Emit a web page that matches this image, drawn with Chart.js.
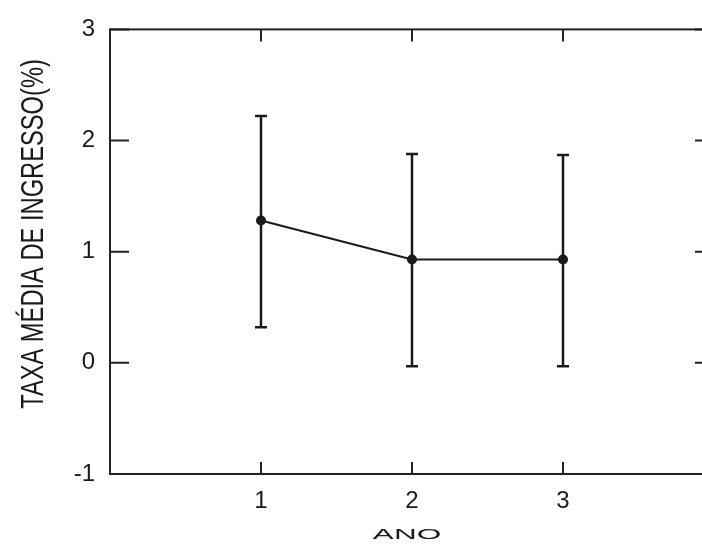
<!DOCTYPE html>
<html>
<head>
<meta charset="utf-8">
<script src="https://cdn.jsdelivr.net/npm/chart.js@4/dist/chart.umd.min.js"></script>
<style>
  html, body { margin: 0; padding: 0; background: #fff; overflow: hidden; }
  canvas { display: block; }
</style>
</head>
<body>
<canvas id="myChart" width="730" height="544"></canvas>
<script>
var years = [1, 2, 3];
var means = [1.28, 0.93, 0.93];
var upper = [2.22, 1.88, 1.87];
var lower = [0.32, -0.03, -0.03];
var yTicks = [-1, 0, 1, 2, 3];
var xTickLabels = ['1', '2', '3'];
var xTitle = 'ANO';
var yTitle = 'TAXA MÉDIA DE INGRESSO(%)';

var ink = '#1a1a1a';

var boxPlugin = {
    id: 'matlabBox',
    beforeDatasetsDraw: function (chart) {
        var ctx = chart.ctx;
        var xs = chart.scales.x, ys = chart.scales.y;
        ctx.save();
        ctx.strokeStyle = ink;
        ctx.lineWidth = 2.5;
        for (var i = 0; i < years.length; i++) {
            var px = xs.getPixelForValue(years[i]);
            var top = ys.getPixelForValue(upper[i]);
            var bot = ys.getPixelForValue(lower[i]);
            ctx.beginPath();
            ctx.moveTo(px, top); ctx.lineTo(px, bot);
            ctx.moveTo(px - 6, top); ctx.lineTo(px + 6, top);
            ctx.moveTo(px - 6, bot); ctx.lineTo(px + 6, bot);
            ctx.stroke();
        }
        ctx.restore();
    },
    afterDraw: function (chart) {
        var ctx = chart.ctx;
        var a = chart.chartArea;
        var xs = chart.scales.x, ys = chart.scales.y;
        ctx.save();
        ctx.strokeStyle = '#222';
        ctx.lineWidth = 2;
        ctx.strokeRect(a.left, a.top, a.right - a.left, a.bottom - a.top);
        ctx.beginPath();
        // inward ticks
        years.forEach(function (v) {
            var px = xs.getPixelForValue(v);
            ctx.moveTo(px, a.bottom); ctx.lineTo(px, a.bottom - 12);
            ctx.moveTo(px, a.top); ctx.lineTo(px, a.top + 12);
        });
        yTicks.forEach(function (v) {
            var py = ys.getPixelForValue(v);
            ctx.moveTo(a.left, py); ctx.lineTo(a.left + 19, py);
            ctx.moveTo(a.right, py); ctx.lineTo(a.right - 19, py);
        });
        ctx.stroke();

        // axis titles
        ctx.fillStyle = ink;
        ctx.textAlign = 'center';
        ctx.textBaseline = 'middle';
        ctx.font = '15px "Liberation Sans", Arial, sans-serif';
        ctx.save();
        ctx.translate(407, 535);
        ctx.scale(2.1, 1);
        ctx.fillText(xTitle, 0, 0);
        ctx.restore();

        ctx.font = '23.7px "Liberation Sans", Arial, sans-serif';
        ctx.save();
        ctx.translate(34, 234);
        ctx.rotate(-Math.PI / 2);
        ctx.scale(1, 1.35);
        ctx.fillText(yTitle, 0, 0);
        ctx.restore();
        ctx.restore();
    }
};

var ctx = document.getElementById('myChart').getContext('2d');

var myChart = new Chart(ctx, {
    type: 'line',
    data: {
        datasets: [{
            data: years.map(function (x, i) { return { x: x, y: means[i] }; }),
            borderColor: ink,
            borderWidth: 2,
            pointRadius: 5,
            pointBackgroundColor: ink,
            pointBorderColor: ink,
            pointBorderWidth: 0,
            tension: 0
        }]
    },
    options: {
        responsive: false,
        animation: false,
        layout: { padding: { top: 25, right: 16, left: 0, bottom: 0 } },
        elements: { point: { hoverRadius: 5 } },
        plugins: {
            legend: { display: false },
            tooltip: { enabled: false }
        },
        scales: {
            x: {
                type: 'linear',
                min: 0,
                max: 4,
                grid: { display: false, drawTicks: false },
                border: { display: false },
                afterFit: function (s) { s.height = 70; },
                ticks: {
                    stepSize: 1,
                    padding: 13,
                    color: ink,
                    font: { family: '"Liberation Sans", Arial, sans-serif', size: 24 },
                    callback: function (v) {
                        var i = years.indexOf(v);
                        return i >= 0 ? xTickLabels[i] : '';
                    }
                }
            },
            y: {
                min: -1,
                max: 3,
                grid: { display: false, drawTicks: false },
                border: { display: false },
                afterFit: function (s) { s.width = 110; },
                ticks: {
                    stepSize: 1,
                    padding: 15,
                    color: ink,
                    font: { family: '"Liberation Sans", Arial, sans-serif', size: 24 }
                }
            }
        }
    },
    plugins: [boxPlugin]
});
</script>
</body>
</html>
